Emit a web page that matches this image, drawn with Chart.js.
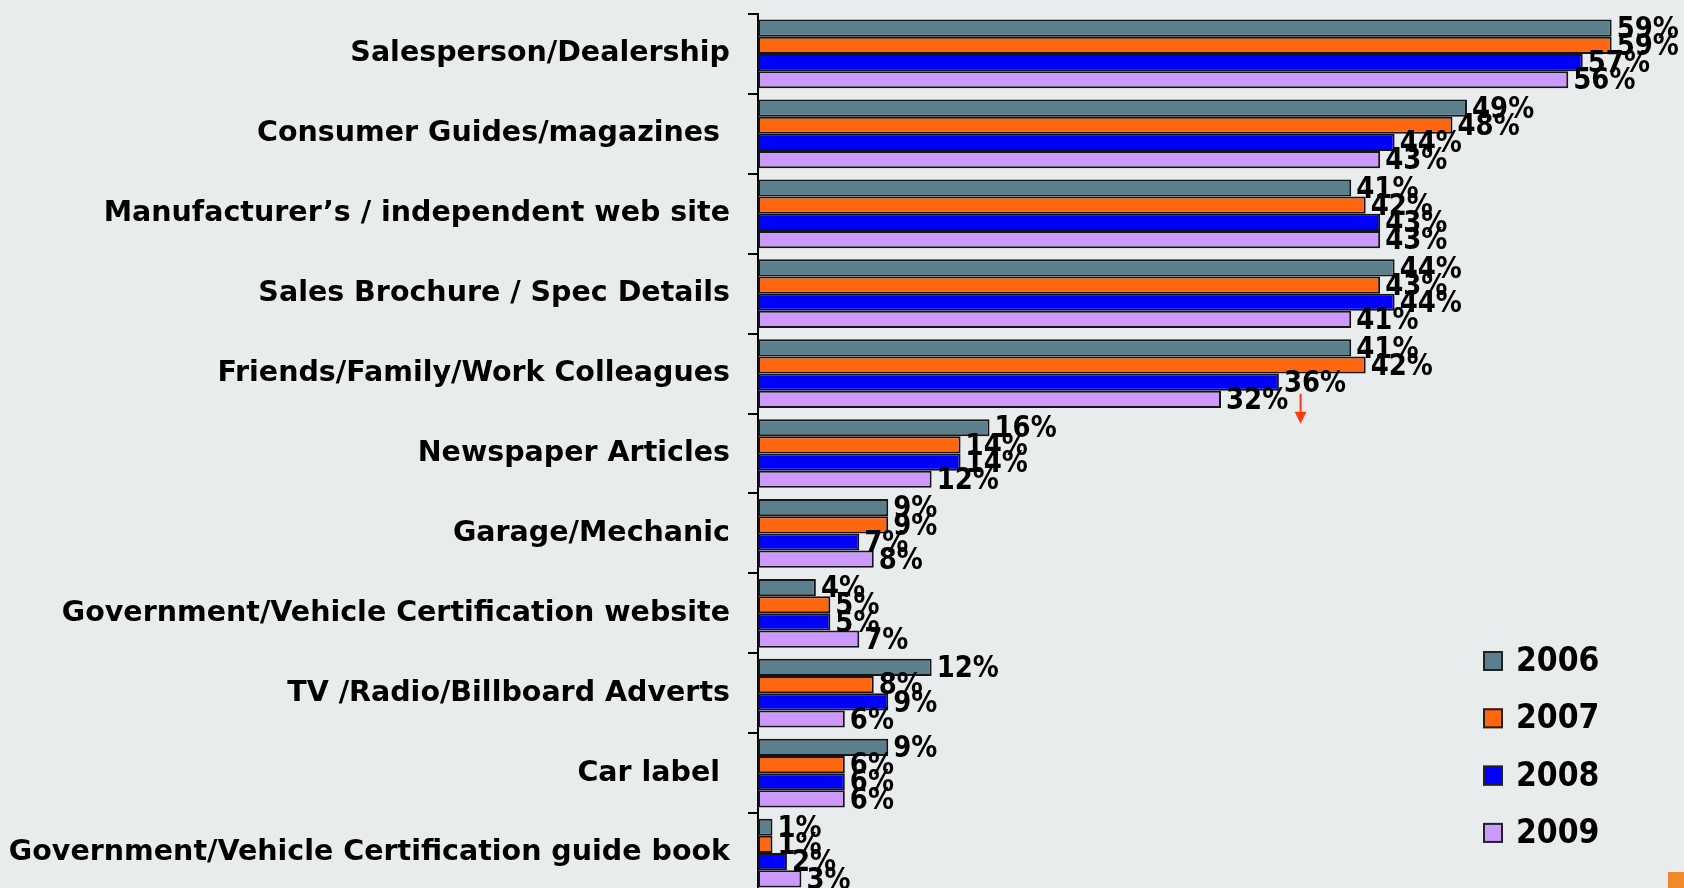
<!DOCTYPE html>
<html>
<head>
<meta charset="utf-8">
<script src="https://cdn.jsdelivr.net/npm/chart.js@4.4.0/dist/chart.umd.min.js"></script>
<style>
    html, body {
        margin: 0;
        padding: 0;
        overflow: hidden;
        background: #E9ECED;
    }
    #wrap {
        position: relative;
        width: 1684px;
        height: 900px;
    }
    .corner {
        position: absolute;
        left: 1668px;
        top: 872px;
        width: 16px;
        height: 16px;
        background: #F0892A;
    }
</style>
</head>
<body>
<div id="wrap">
    <canvas id="sourcesChart"></canvas>
    <div class="corner"></div>
</div>
<script>
const categories = [
    'Salesperson/Dealership',
    'Consumer Guides/magazines ',
    'Manufacturer’s / independent web site',
    'Sales Brochure / Spec Details',
    'Friends/Family/Work Colleagues',
    'Newspaper Articles',
    'Garage/Mechanic',
    'Government/Vehicle Certification website',
    'TV /Radio/Billboard Adverts',
    'Car label ',
    'Government/Vehicle Certification guide book'
];
const years = ['2006', '2007', '2008', '2009'];
const values2006 = [59, 49, 41, 44, 41, 16, 9, 4, 12, 9, 1];
const values2007 = [59, 48, 42, 43, 42, 14, 9, 5, 8, 6, 1];
const values2008 = [57, 44, 43, 44, 36, 14, 7, 5, 9, 6, 2];
const values2009 = [56, 43, 43, 41, 32, 12, 8, 7, 6, 6, 3];
const yearColors = ['#5B7F8C', '#FF6610', '#0000FF', '#CC99FF'];

const FONT = '"DejaVu Sans", Verdana, sans-serif';
const TEXT_STRETCH = 1.15;

// text drawn a little taller than wide, like the axis labels
function tallText(ctx, text, x, y) {
    ctx.save();
    ctx.translate(x, y);
    ctx.scale(1, TEXT_STRETCH);
    ctx.fillText(text, 0, 0);
    ctx.restore();
}

// percent labels to the right of each bar
const valueLabels = {
    id: 'valueLabels',
    afterDatasetsDraw(chart) {
        const ctx = chart.ctx;
        ctx.save();
        ctx.font = `bold 26px ${FONT}`;
        ctx.fillStyle = '#000';
        ctx.textAlign = 'left';
        ctx.textBaseline = 'middle';
        chart.data.datasets.forEach((ds, i) => {
            chart.getDatasetMeta(i).data.forEach((bar, j) => {
                tallText(ctx, `${ds.data[j]}%`, bar.x + 5, bar.y + 2);
            });
        });
        ctx.restore();
    }
};

// small down arrow under the 2009 friends/family bar
const dropArrow = {
    id: 'dropArrow',
    afterDraw(chart) {
        const bar = chart.getDatasetMeta(3).data[4];
        const x = chart.scales.x.getPixelForValue(37.5);
        const top = bar.y - bar.height / 2 + 3;
        const tip = top + 30;
        const ctx = chart.ctx;
        ctx.save();
        ctx.strokeStyle = '#FF3A10';
        ctx.fillStyle = '#FF3A10';
        ctx.lineWidth = 2;
        ctx.beginPath();
        ctx.moveTo(x, top);
        ctx.lineTo(x, tip - 10);
        ctx.stroke();
        ctx.beginPath();
        ctx.moveTo(x - 6, tip - 12);
        ctx.lineTo(x + 6, tip - 12);
        ctx.lineTo(x, tip);
        ctx.closePath();
        ctx.fill();
        ctx.restore();
    }
};

// year legend in the lower right corner
const yearLegend = {
    id: 'yearLegend',
    afterDraw(chart) {
        const ctx = chart.ctx;
        const left = chart.chartArea.right - 201;
        const startY = 661;
        ctx.save();
        ctx.font = `bold 30px ${FONT}`;
        ctx.textAlign = 'left';
        ctx.textBaseline = 'middle';
        chart.data.datasets.forEach((ds, i) => {
            const y = startY + i * 57.3;
            ctx.fillStyle = ds.backgroundColor;
            ctx.fillRect(left, y - 10, 20, 20);
            ctx.lineWidth = 2;
            ctx.strokeStyle = '#222';
            ctx.strokeRect(left + 1, y - 9, 18, 18);
            ctx.fillStyle = '#000';
            tallText(ctx, ds.label, left + 33, y + 1);
        });
        ctx.restore();
    }
};

const datasets = [values2006, values2007, values2008, values2009].map((vals, i) => ({
    label: years[i],
    data: vals,
    backgroundColor: yearColors[i],
    borderColor: '#151515',
    borderWidth: 2,
    borderSkipped: false,
    categoryPercentage: 0.86,
    barPercentage: 1.0
}));

new Chart(document.getElementById('sourcesChart'), {
    type: 'bar',
    data: {
        labels: categories,
        datasets: datasets
    },
    options: {
        indexAxis: 'y',
        responsive: true,
        maintainAspectRatio: false,
        animation: false,
        layout: {
            padding: { top: 14, bottom: 7, left: 0, right: 0 }
        },
        plugins: {
            legend: { display: false },
            tooltip: { enabled: false }
        },
        scales: {
            x: {
                display: false,
                min: 0,
                max: 64
            },
            y: {
                afterFit: scale => {
                    scale.width = 758;
                    scale.paddingTop = 0;
                    scale.paddingBottom = 0;
                },
                border: {
                    display: true,
                    color: '#000',
                    width: 2
                },
                grid: {
                    offset: true,
                    drawOnChartArea: false,
                    drawTicks: true,
                    tickLength: 10,
                    color: '#000',
                    lineWidth: 2
                },
                ticks: {
                    padding: 18,
                    color: '#000',
                    font: {
                        family: FONT,
                        size: 28.5,
                        weight: 'bold'
                    }
                }
            }
        }
    },
    plugins: [valueLabels, dropArrow, yearLegend]
});
</script>
</body>
</html>
